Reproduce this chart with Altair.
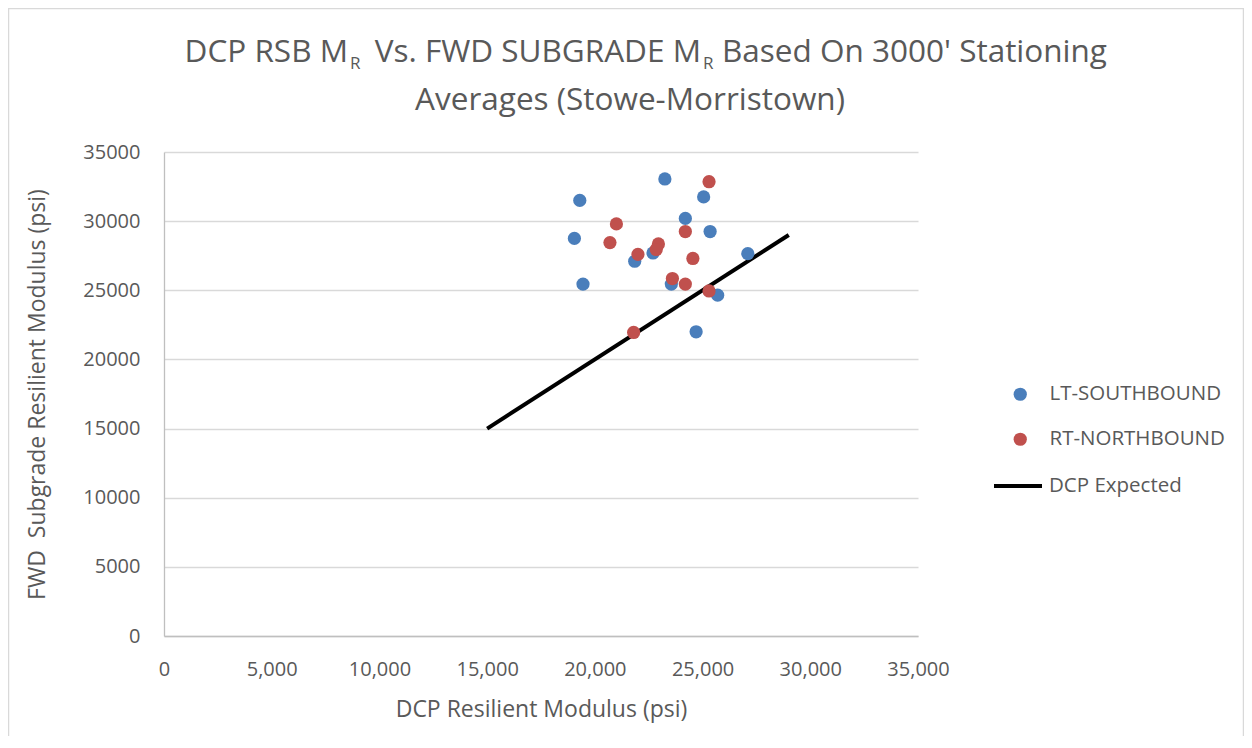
import altair as alt
import pandas as pd

# ---- data ----
lt_x = [19300, 23250, 25050, 24200, 25350, 19050, 22700, 21850, 27100, 19450, 23550, 25700, 24700]
lt_y = [31500, 33050, 31750, 30200, 29250, 28750, 27700, 27100, 27650, 25450, 25450, 24650, 22000]

rt_x = [25300, 21000, 24200, 20700, 22950, 22850, 22000, 24550, 23600, 24200, 25300, 21800]
rt_y = [32850, 29800, 29250, 28450, 28350, 27950, 27600, 27300, 25850, 25450, 24950, 21950]

line_x = [15000, 29000]
line_y = [15000, 29000]

series_names = ["LT-SOUTHBOUND", "RT-NORTHBOUND"]
series_colors = ["#4A7EBB", "#C0504D"]
line_name = "DCP Expected"

tick_values = [0, 5000, 10000, 15000, 20000, 25000, 30000, 35000]

title_p1 = "DCP RSB M"
title_sub = "R"
title_p2 = "Vs. FWD SUBGRADE M"
title_p3 = "Based On 3000' Stationing"
title_line2 = "Averages (Stowe-Morristown)"

x_title = "DCP Resilient Modulus (psi)"
y_title = "FWD\u00a0 Subgrade Resilient Modulus (psi)"

FONT = "Open Sans"
GREY = "#595959"

pts = pd.DataFrame({
    "x": lt_x + rt_x,
    "y": lt_y + rt_y,
    "series": [series_names[0]] * len(lt_x) + [series_names[1]] * len(rt_x),
})
ln = pd.DataFrame({"x": line_x, "y": line_y, "series": [line_name] * len(line_x)})

xscale = alt.Scale(domain=[0, 35000], nice=False)
yscale = alt.Scale(domain=[0, 35000], nice=False)

xaxis = alt.Axis(values=tick_values, format=",d", grid=False, ticks=False,
                 domainColor="#BFBFBF", domainWidth=1.3,
                 labelFont=FONT, labelFontSize=20, labelColor=GREY, labelPadding=23,
                 labelFlush=False, labelOverlap=False,
                 title=x_title, titleFont=FONT, titleFontSize=23, titleFontWeight="normal",
                 titleColor=GREY, titleY=80, titleBaseline="alphabetic")
yaxis = alt.Axis(values=tick_values, format="d", grid=True, gridColor="#D9D9D9", gridWidth=1.3,
                 ticks=False, domainColor="#BFBFBF", domainWidth=1.3,
                 labelFont=FONT, labelFontSize=20, labelColor=GREY, labelPadding=24,
                 labelFlush=False, labelOverlap=False,
                 title=y_title, titleFont=FONT, titleFontSize=23, titleFontWeight="normal",
                 titleColor=GREY, titleX=-120, titleY=242, titleBaseline="alphabetic",
                 titleLimit=600)

line_layer = alt.Chart(ln).mark_line(strokeWidth=4).encode(
    x=alt.X("x:Q", scale=xscale, axis=xaxis),
    y=alt.Y("y:Q", scale=yscale, axis=yaxis),
    color=alt.Color("series:N",
                    scale=alt.Scale(domain=[line_name], range=["black"]),
                    legend=alt.Legend(title=None, orient="none", legendX=828, legendY=308,
                                      symbolType="stroke", symbolSize=2304, symbolStrokeWidth=4,
                                      labelOffset=5, labelFont=FONT, labelFontSize=20.5,
                                      labelColor=GREY, labelLimit=400, padding=0)),
)

point_layer = alt.Chart(pts).mark_point(filled=True, size=175, opacity=1).encode(
    x=alt.X("x:Q", scale=xscale),
    y=alt.Y("y:Q", scale=yscale),
    color=alt.Color("series:N",
                    scale=alt.Scale(domain=series_names, range=series_colors),
                    legend=alt.Legend(title=None, orient="none", legendX=846, legendY=232,
                                      symbolType="circle", symbolSize=175, symbolOpacity=1,
                                      labelOffset=19, rowPadding=24, labelFont=FONT,
                                      labelFontSize=20.5, labelColor=GREY, labelLimit=400,
                                      padding=0)),
)


def txt(s, x, y, size, align):
    return alt.Chart(pd.DataFrame({"t": [s]})).mark_text(
        font=FONT, fontSize=size, color=GREY, align=align, baseline="alphabetic"
    ).encode(text="t:N", x=alt.value(x), y=alt.value(y))


title_layers = [
    txt(title_p1, 184, -90, 31.5, "right"),
    txt(title_sub, 186, -83.5, 17, "left"),
    txt(title_p2, 537, -90, 31.5, "right"),
    txt(title_sub, 539, -83.5, 17, "left"),
    txt(title_p3, 558, -90, 31.5, "left"),
    txt(title_line2, 466, -42, 31.5, "center"),
]

frame = alt.Chart(pd.DataFrame({"a": [0]})).mark_rect(
    fillOpacity=0, stroke="#D9D9D9", strokeWidth=1.5
).encode(x=alt.value(-155.5), x2=alt.value(1079.5), y=alt.value(-143.5), y2=alt.value(700))

chart = alt.layer(frame, line_layer, point_layer, *title_layers).resolve_scale(
    color="independent"
).properties(
    width=754, height=484,
    autosize=alt.AutoSizeParams(type="none"),
    padding={"left": 156, "top": 144, "right": 326, "bottom": 100},
).configure_view(stroke=None)

chart.save("out.html", embed_options={"renderer": "svg", "actions": False})
